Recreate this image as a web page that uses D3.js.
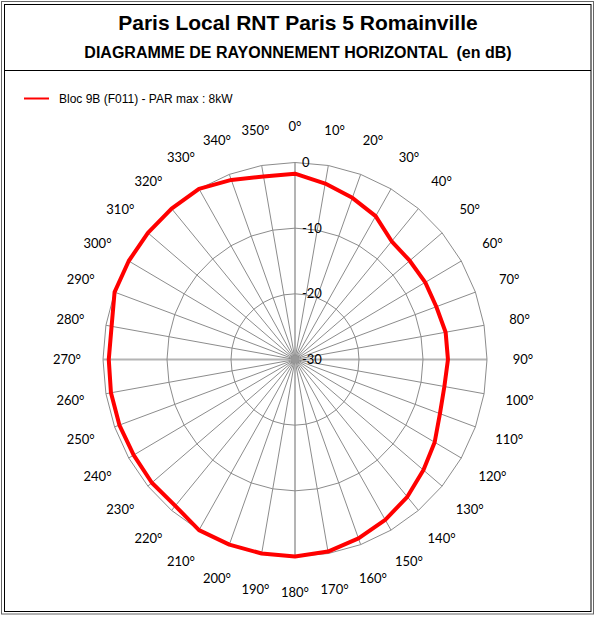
<!DOCTYPE html>
<html>
<head>
<meta charset="utf-8">
<script src="https://cdn.jsdelivr.net/npm/d3@7/dist/d3.min.js"></script>
<style>
  body { margin: 0; background: #fff; }
  svg { display: block; }
</style>
</head>
<body>
<svg id="chart" width="597" height="618"></svg>
<script>
// azimuths (degrees, clockwise from north)
const angles = [0, 10, 20, 30, 40, 50, 60, 70, 80, 90, 100, 110, 120, 130, 140, 150, 160, 170,
                180, 190, 200, 210, 220, 230, 240, 250, 260, 270, 280, 290, 300, 310, 320, 330, 340, 350];
// attenuation in dB
const attenuation = [-1.7, -2.8, -3.8, -4.8, -6.5, -6.6, -6.5, -6.5, -6.1, -6.1, -6.3, -5.9, -4.8, -3.8, -2.7, -1.8, -1.0, -0.3,
                     0, 0, 0, 0, -0.9, -0.8, -0.9, -0.8, -0.8, -0.9, -0.9, 0, 0, 0, 0, 0, -0.9, -1.7];
const ringTicks = [-30, -20, -10, 0];
const seriesName = 'Bloc 9B (F011) - PAR max : 8kW';
const title = 'Paris Local RNT Paris 5 Romainville';
const subtitle = 'DIAGRAMME DE RAYONNEMENT HORIZONTAL  (en dB)';

function drawChart() {
    const svg = d3.select('#chart');
    svg.selectAll('*').remove();

    // frame
    svg.append('rect')
        .attr('x', 1.5).attr('y', 1.5).attr('width', 592).attr('height', 612.5)
        .attr('fill', 'none').attr('stroke', '#666');
    svg.append('rect')
        .attr('x', 4.5).attr('y', 4.5).attr('width', 586.5).attr('height', 607)
        .attr('fill', 'none').attr('stroke', '#000');
    svg.append('line')
        .attr('x1', 4.5).attr('x2', 591).attr('y1', 70.5).attr('y2', 70.5)
        .attr('stroke', '#000');

    // titles
    svg.append('text')
        .attr('x', 298).attr('y', 30)
        .attr('text-anchor', 'middle')
        .style('font', 'bold 21px "Liberation Sans", Arial, sans-serif')
        .text(title);
    svg.append('text')
        .attr('x', 298).attr('y', 58)
        .attr('text-anchor', 'middle')
        .style('white-space', 'pre')
        .style('font', 'bold 16px "Liberation Sans", Arial, sans-serif')
        .text(subtitle);

    // legend
    svg.append('line')
        .attr('x1', 24).attr('x2', 49).attr('y1', 98.5).attr('y2', 98.5)
        .attr('stroke', '#ff0000').attr('stroke-width', 2);
    svg.append('text')
        .attr('x', 59).attr('y', 103)
        .style('font', '12px "Liberation Sans", Arial, sans-serif')
        .text(seriesName);

    // polar scales (the plot area is a little narrower than tall)
    const cx = 295, cy = 359.5;
    const rx = d3.scaleLinear().domain([-30, 0]).range([0, 192]);
    const ry = d3.scaleLinear().domain([-30, 0]).range([0, 197]);
    const ang = d3.scaleLinear().domain([0, 360]).range([0, 2 * Math.PI]);
    const pt = (a, v) => [cx + rx(v) * Math.sin(ang(a)), cy - ry(v) * Math.cos(ang(a))];

    const g = svg.append('g');
    const closed = d3.line().curve(d3.curveLinearClosed);

    // spokes
    g.selectAll('line.spoke')
        .data(angles)
        .enter().append('line')
        .attr('class', 'spoke')
        .attr('x1', cx).attr('y1', cy)
        .attr('x2', d => pt(d, 0)[0])
        .attr('y2', d => pt(d, 0)[1])
        .attr('stroke', d => d % 90 === 0 ? '#b4b4b4' : '#8c8c8c')
        .attr('stroke-width', d => d % 90 === 0 ? 2 : 1);

    // rings
    g.selectAll('path.ring')
        .data(ringTicks.filter(t => t > -30))
        .enter().append('path')
        .attr('class', 'ring')
        .attr('d', t => closed(angles.map(a => pt(a, t))))
        .attr('fill', 'none')
        .attr('stroke', '#8c8c8c')
        .attr('stroke-width', 1);

    // centre blob where spokes meet
    g.append('circle')
        .attr('cx', cx).attr('cy', cy).attr('r', 4)
        .attr('fill', '#999');

    // series
    g.append('path')
        .attr('d', closed(angles.map((a, i) => pt(a, attenuation[i]))))
        .attr('fill', 'none')
        .attr('stroke', '#ff0000')
        .attr('stroke-width', 4)
        .attr('stroke-linejoin', 'round');

    // value axis labels
    g.selectAll('text.tick')
        .data(ringTicks)
        .enter().append('text')
        .attr('class', 'tick')
        .attr('x', cx + 7)
        .attr('y', t => pt(0, t)[1])
        .attr('dy', '0.35em')
        .style('font', '13px Lato, "Open Sans", sans-serif')
        .text(t => t);

    // angle labels
    const lx = d3.scaleLinear().domain([0, 1]).range([0, 228]);
    const ly = d3.scaleLinear().domain([0, 1]).range([0, 233]);
    g.selectAll('text.angle')
        .data(angles)
        .enter().append('text')
        .attr('class', 'angle')
        .attr('x', d => cx + lx(Math.sin(ang(d))))
        .attr('y', d => cy - ly(Math.cos(ang(d))))
        .attr('dy', '0.35em')
        .attr('text-anchor', 'middle')
        .style('font', '13px Lato, "Open Sans", sans-serif')
        .text(d => d + '°');
}

drawChart();
</script>
</body>
</html>
